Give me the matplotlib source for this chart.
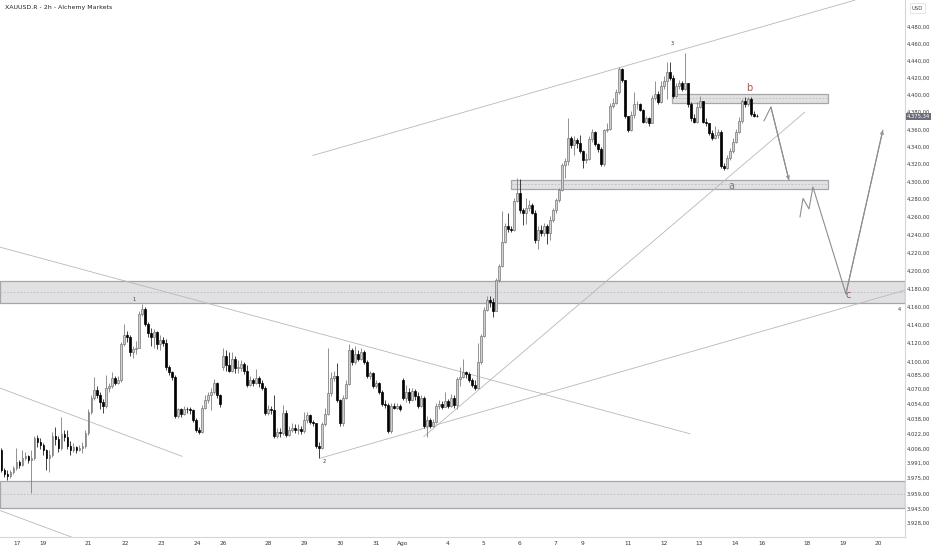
#! /usr/bin/env python3
"""XAUUSD 2h candles with wave count drawings"""

import numpy as np
import matplotlib
matplotlib.use("Agg")
from matplotlib import pyplot as plt
from matplotlib.patches import Rectangle
from matplotlib.ticker import NullLocator
from matplotlib.transforms import blended_transform_factory

TITLE = "XAUUSD.R - 2h - Alchemy Markets"
LAST_PRICE = 4375.34

closes = np.array([
    3984, 3979, 3977, 3981, 3986, 3992, 3989, 3996, 3998, 3994,
    3996, 4018, 4013, 4010, 4005, 3996, 3999, 4020, 4016, 4007,
    4022, 4019, 4009, 4005, 4008, 4005, 4007, 4009, 4023, 4045,
    4060, 4069, 4064, 4056, 4052, 4071, 4073, 4082, 4076, 4080,
    4119, 4129, 4127, 4110, 4113, 4115, 4152, 4157, 4141, 4131,
    4127, 4132, 4119, 4123, 4120, 4094, 4088, 4083, 4041, 4048,
    4043, 4049, 4048, 4047, 4037, 4026, 4024, 4050, 4058, 4064,
    4067, 4076, 4064, 4054, 4106, 4096, 4090, 4103, 4093, 4093,
    4097, 4090, 4074, 4080, 4076, 4082, 4076, 4071, 4044, 4049,
    4047, 4020, 4024, 4023, 4044, 4021, 4026, 4028, 4026, 4027,
    4025, 4037, 4042, 4035, 4033, 4009, 4007, 4032, 4043, 4066,
    4082, 4084, 4058, 4033, 4060, 4075, 4112, 4099, 4108, 4103,
    4110, 4099, 4084, 4087, 4073, 4076, 4067, 4054, 4053, 4025,
    4052, 4050, 4052, 4049, 4060, 4067, 4058, 4068, 4063, 4052,
    4060, 4030, 4037, 4030, 4035, 4052, 4054, 4051, 4057, 4052,
    4060, 4053, 4081, 4083, 4088, 4086, 4080, 4074, 4071, 4099,
    4128, 4156, 4167, 4165, 4155, 4189, 4205, 4232, 4250, 4246,
    4245, 4278, 4287, 4268, 4265, 4270, 4273, 4265, 4234, 4245,
    4242, 4250, 4242, 4257, 4268, 4279, 4291, 4319, 4324, 4350,
    4342, 4348, 4344, 4335, 4325, 4326, 4349, 4357, 4343, 4337,
    4320, 4359, 4361, 4387, 4391, 4403, 4430, 4417, 4375, 4359,
    4377, 4389, 4389, 4383, 4369, 4373, 4368, 4397, 4401, 4392,
    4410, 4416, 4427, 4420, 4399, 4411, 4414, 4407, 4414, 4389,
    4373, 4369, 4386, 4393, 4369, 4367, 4356, 4350, 4354, 4357,
    4318, 4316, 4327, 4335, 4346, 4357, 4370, 4393, 4389, 4395,
    4378, 4376, LAST_PRICE,
], dtype=float)

highs = np.array([
    4007, 3986, 3984, 3984, 3988, 4007, 3994, 4005, 4003, 3999,
    4005, 4020, 4021, 4018, 4012, 4006, 4005, 4024, 4029, 4020,
    4040, 4026, 4026, 4014, 4012, 4009, 4010, 4013, 4026, 4048,
    4064, 4083, 4073, 4067, 4059, 4085, 4077, 4088, 4084, 4084,
    4121, 4141, 4133, 4129, 4117, 4122, 4155, 4163, 4159, 4143,
    4136, 4135, 4133, 4129, 4126, 4124, 4096, 4090, 4085, 4050,
    4050, 4052, 4051, 4051, 4048, 4039, 4029, 4053, 4064, 4067,
    4071, 4081, 4078, 4065, 4114, 4112, 4110, 4110, 4106, 4101,
    4101, 4099, 4096, 4084, 4082, 4092, 4084, 4080, 4073, 4053,
    4052, 4064, 4028, 4028, 4053, 4047, 4030, 4033, 4032, 4032,
    4030, 4045, 4045, 4043, 4037, 4033, 4013, 4035, 4050, 4115,
    4088, 4090, 4098, 4059, 4064, 4080, 4119, 4114, 4117, 4112,
    4114, 4112, 4101, 4090, 4088, 4080, 4078, 4069, 4058, 4055,
    4055, 4055, 4055, 4054, 4082, 4074, 4071, 4071, 4070, 4067,
    4064, 4063, 4041, 4039, 4038, 4055, 4058, 4057, 4067, 4059,
    4065, 4064, 4083, 4094, 4103, 4090, 4088, 4082, 4080, 4120,
    4130, 4159, 4172, 4172, 4169, 4192, 4207, 4267, 4253, 4264,
    4250, 4281, 4304, 4303, 4270, 4281, 4279, 4276, 4268, 4250,
    4251, 4253, 4252, 4261, 4270, 4281, 4293, 4321, 4327, 4373,
    4352, 4352, 4350, 4354, 4336, 4333, 4352, 4361, 4358, 4344,
    4340, 4361, 4367, 4391, 4397, 4407, 4433, 4432, 4418, 4376,
    4381, 4403, 4393, 4391, 4384, 4375, 4374, 4400, 4416, 4405,
    4416, 4422, 4439, 4439, 4423, 4414, 4418, 4416, 4449, 4414,
    4392, 4378, 4392, 4399, 4393, 4373, 4368, 4359, 4364, 4360,
    4359, 4321, 4330, 4338, 4350, 4360, 4374, 4395, 4398, 4398,
    4398, 4381, 4378,
], dtype=float)

lows = np.array([
    3981, 3976, 3973, 3975, 3979, 3984, 3986, 3988, 3994, 3991,
    3959, 3994, 4008, 4006, 3999, 3984, 3981, 3997, 4010, 4003,
    4005, 4014, 4006, 3999, 4003, 4002, 4004, 4002, 4007, 4021,
    4043, 4058, 4060, 4048, 4044, 4050, 4067, 4071, 4074, 4075,
    4078, 4117, 4121, 4106, 4104, 4108, 4114, 4150, 4139, 4127,
    4117, 4115, 4113, 4112, 4117, 4091, 4085, 4080, 4039, 4039,
    4040, 4042, 4044, 4043, 4035, 4024, 4022, 4023, 4048, 4055,
    4047, 4065, 4060, 4051, 4091, 4090, 4088, 4088, 4087, 4087,
    4090, 4086, 4072, 4073, 4073, 4075, 4072, 4069, 4042, 4042,
    4043, 4018, 4018, 4019, 4021, 4019, 4020, 4024, 4023, 4022,
    4022, 4023, 4034, 4032, 4030, 4007, 3996, 4006, 4030, 4042,
    4063, 4079, 4056, 4030, 4030, 4059, 4074, 4096, 4097, 4100,
    4101, 4097, 4082, 4081, 4071, 4071, 4065, 4052, 4050, 4023,
    4023, 4048, 4048, 4046, 4058, 4056, 4055, 4057, 4058, 4050,
    4051, 4028, 4019, 4028, 4029, 4033, 4049, 4048, 4051, 4050,
    4051, 4050, 4048, 4073, 4082, 4082, 4078, 4072, 4069, 4070,
    4097, 4126, 4155, 4160, 4149, 4155, 4187, 4204, 4231, 4243,
    4243, 4244, 4277, 4265, 4251, 4252, 4267, 4263, 4231, 4224,
    4238, 4238, 4230, 4234, 4254, 4265, 4277, 4289, 4304, 4319,
    4338, 4330, 4338, 4333, 4316, 4321, 4325, 4346, 4341, 4334,
    4318, 4318, 4357, 4359, 4385, 4389, 4401, 4415, 4373, 4357,
    4358, 4373, 4384, 4381, 4367, 4368, 4364, 4368, 4394, 4390,
    4391, 4407, 4395, 4418, 4397, 4398, 4407, 4405, 4406, 4386,
    4370, 4367, 4368, 4385, 4367, 4364, 4353, 4348, 4349, 4350,
    4316, 4313, 4314, 4325, 4333, 4344, 4356, 4368, 4386, 4387,
    4376, 4374, 4374,
], dtype=float)

first_open = 4005
gap_opens = {74: 4094, 134: 4080}   # weekend gaps

price_ticks = [4480, 4460, 4440, 4420, 4400, 4380, 4360, 4340, 4320, 4300,
               4280, 4260, 4240, 4220, 4200, 4180, 4160, 4140, 4120, 4100,
               4085, 4070, 4054, 4038, 4022, 4006, 3991, 3975, 3959, 3943,
               3928]

day_labels = ["17", "19", "21", "22", "23", "24", "26", "28", "29", "30",
              "31", "Ago", "4", "5", "6", "7", "9", "11", "12", "13", "14",
              "16", "18", "19", "20"]
day_bars = [5.2, 13.8, 28.8, 41.2, 53.2, 65.2, 73.8, 88.8, 100.8, 112.8,
            124.8, 133.8, 148.8, 160.5, 172.5, 184.5, 193.8, 208.8, 220.8,
            232.5, 244.5, 253.5, 268.5, 280.5, 292.2]

# zones: (first bar, last bar, low, high)
zones = [
    (-0.5, 301.2, 4164, 4188),
    (-0.5, 301.2, 3944, 3972),
    (169.8, 275.5, 4292, 4302),
    (223.5, 275.5, 4391, 4401),
]

# trend lines: ((bar, price), (bar, price))
trendlines = [
    ((103.8, 4330), (284.5, 4512)),
    ((-0.5, 4226), (229.5, 4022)),
    ((-0.5, 4071), (60.2, 3998)),
    ((-0.5, 3941), (24.5, 3912)),
    ((106.2, 3996), (301.2, 4178)),
    ((140.8, 4019), (267.8, 4380)),
]

# projected paths
path_1 = [(254.2, 4370), (256.5, 4386), (262.5, 4302)]
path_2 = [(266.2, 4260), (267.2, 4281), (269.2, 4269), (270.5, 4294),
          (281.5, 4174), (293.8, 4359)]

wave_labels = [("1", 44.2, 4168), ("2", 107.5, 3992),
               ("3", 223.5, 4461), ("4", 299.2, 4157)]
letter_labels = [("a", 243.2, 4295, "#7d7d7d"), ("b", 249.2, 4408, "#a0574f"),
                 ("c", 282.2, 4173, "#a0574f")]


def es_format(value):
    """4480.0 -> 4.480,00"""
    txt = f"{value:,.2f}"
    return txt.replace(",", "X").replace(".", ",").replace("X", ".")


opens = np.concatenate(([first_open], closes[:-1]))
for idx, val in gap_opens.items():
    opens[idx] = val
highs = np.maximum(highs, np.maximum(opens, closes))
lows = np.minimum(lows, np.minimum(opens, closes))
bars = np.arange(closes.size)
up = closes >= opens

fig = plt.figure(figsize=(9.32, 5.5), dpi=100)
ax = fig.add_axes([0, 13 / 550, 905 / 932, 537 / 550])
ax.set_yscale("log")
ax.set_xlim(-0.5, 301.2)
ax.set_ylim(3913.4, 4512.2)

# zones
for x0, x1, lo, hi in zones:
    ax.add_patch(Rectangle((x0, lo), x1 - x0, hi - lo, facecolor="#e1e1e4",
                           edgecolor="#a5a5aa", linewidth=0.9, zorder=1))
    ax.plot([x0, x1], [(lo + hi) / 2] * 2, color="#bcbcc0", lw=0.6,
            ls=(0, (2, 2)), zorder=1.1)

for (xa, ya), (xb, yb) in trendlines:
    ax.plot([xa, xb], [ya, yb], color="#b8b8b8", lw=0.6, zorder=1.5)

# candles
wick_col = np.where(up, "#7f7f7f", "#222222")
ax.vlines(bars, lows, highs, colors=wick_col, lw=0.6, zorder=2)
body_lo = np.minimum(opens, closes)
body_h = np.maximum(np.abs(closes - opens), 0.7)
ax.bar(bars[up], body_h[up], bottom=body_lo[up], width=0.66,
       color="#d0d0d3", edgecolor="#777777", linewidth=0.5, zorder=3)
ax.bar(bars[~up], body_h[~up], bottom=body_lo[~up], width=0.66,
       color="#000000", edgecolor="#000000", linewidth=0.5, zorder=3)

# projected paths
for path in (path_1, path_2):
    px, py = zip(*path)
    ax.plot(px, py, color="#8e8e8e", lw=0.8, zorder=4)
    ax.annotate("", xy=path[-1], xytext=path[-2],
                arrowprops=dict(arrowstyle="->", color="#8e8e8e", lw=0.8,
                                shrinkA=0, shrinkB=0, mutation_scale=5),
                zorder=4)

for txt, bx, price in wave_labels:
    ax.text(bx, price, txt, fontsize=3.5, color="#333333", ha="center",
            va="center", zorder=5)
for txt, bx, price, col in letter_labels:
    ax.text(bx, price, txt, fontsize=7, color=col, ha="center",
            va="center", zorder=5)

# axes
ax.yaxis.tick_right()
ax.set_yticks(price_ticks)
ax.set_yticklabels([es_format(p) for p in price_ticks])
ax.yaxis.set_minor_locator(NullLocator())
ax.set_xticks(day_bars)
ax.set_xticklabels(day_labels)
ax.tick_params(axis="y", length=0, pad=1.5, labelsize=3.8, colors="#3a3a3a")
ax.tick_params(axis="x", length=0, pad=3, labelsize=4.2, colors="#3a3a3a")
for side in ("top", "left"):
    ax.spines[side].set_visible(False)
for side in ("right", "bottom"):
    ax.spines[side].set_color("#d6d6d6")
    ax.spines[side].set_linewidth(0.8)

trans = blended_transform_factory(ax.transAxes, ax.transData)
ax.text(1.002, LAST_PRICE, es_format(LAST_PRICE), transform=trans,
        fontsize=3.8, color="white", ha="left", va="center", zorder=6,
        bbox=dict(boxstyle="square,pad=0.2", facecolor="#6b6e78",
                  edgecolor="none"), clip_on=False)

fig.text(5 / 932, 1 - 7 / 550, TITLE, fontsize=4.5, color="#222222",
         ha="left", va="center")
fig.text(912 / 932, 1 - 8 / 550, "USD", fontsize=3.8, color="#444444",
         ha="left", va="center",
         bbox=dict(boxstyle="square,pad=0.4", facecolor="white",
                   edgecolor="#e2e2e2", linewidth=0.6))

fig.savefig("out.png", dpi=100)
